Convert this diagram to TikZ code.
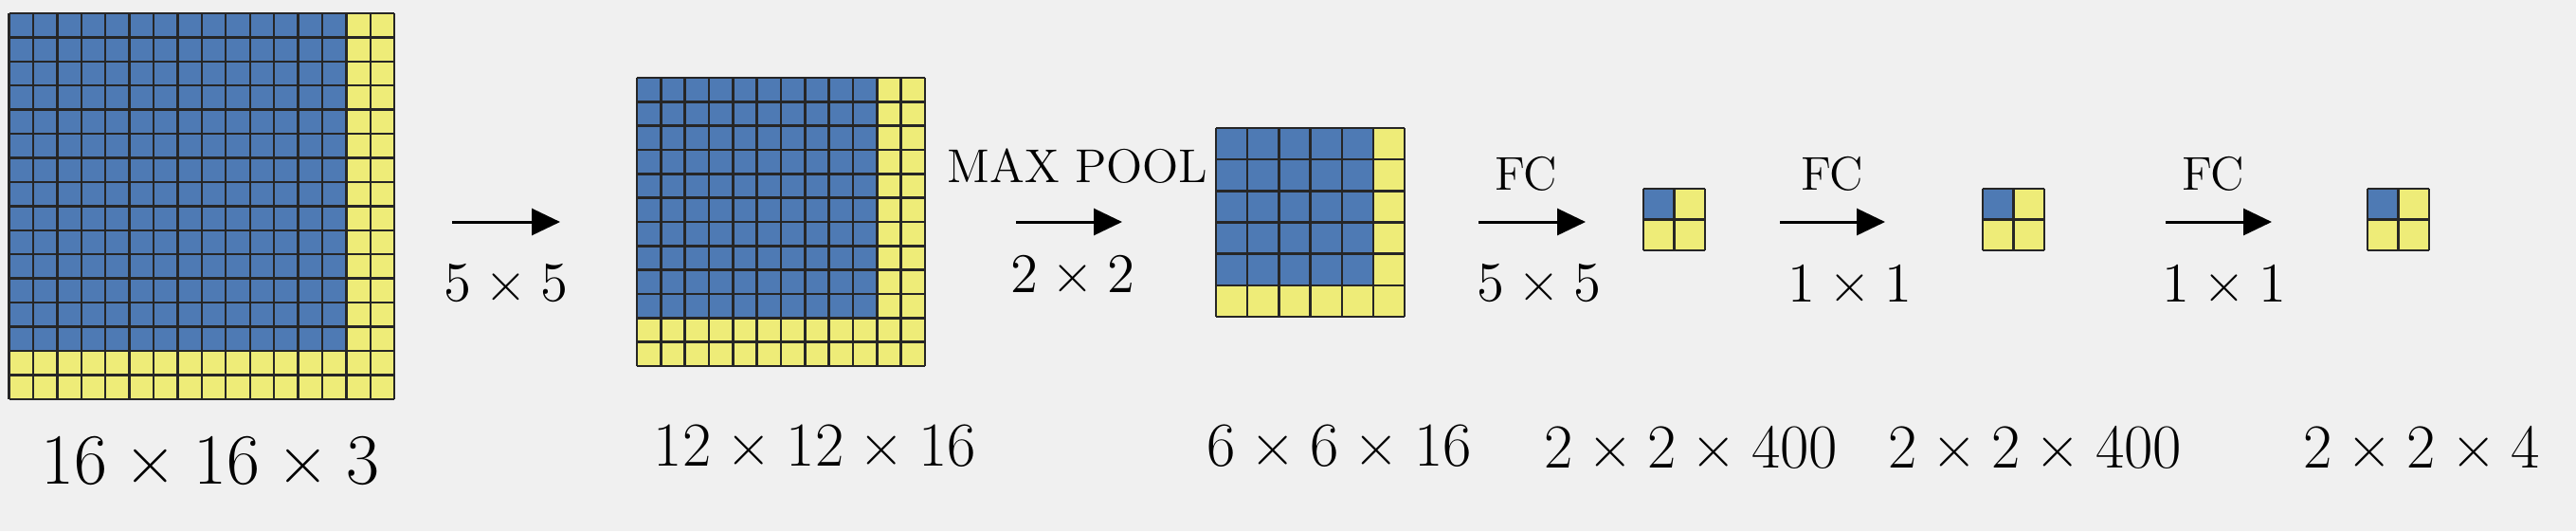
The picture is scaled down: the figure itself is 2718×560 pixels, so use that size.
\documentclass[tikz,border=0pt]{standalone}
\usepackage{fontspec}
\usepackage{color}
\usetikzlibrary{arrows.meta, positioning}
\definecolor{mapblue}{RGB}{78,122,180}
\definecolor{mapyellow}{RGB}{238,236,120}
\definecolor{bggray}{RGB}{240,240,240}
\newcommand{\by}{\hspace{.24em}×\hspace{.24em}}
\tikzset{
	blueCell/.style={fill=mapblue},
	yellowCell/.style={fill=mapyellow},
	gridLine/.style={line width=.6pt, black!85},
	flow/.style={line width=.75pt, -{Triangle[length=7.5pt,width=7pt]}},
	opLabel/.style={inner sep=0pt, anchor=base, font=\fontsize{12.5}{14}\selectfont},
	kernelLabel/.style={inner sep=0pt, anchor=base, font=\fontsize{14.75}{17}\selectfont},
	dimLabel/.style={inner sep=0pt, anchor=base, font=\fontsize{16.5}{19}\selectfont}
}

\begin{document}
\begin{tikzpicture}[x=.25pt, y=-.25pt]
\fill[bggray] (0,0) rectangle (2718,560);
\useasboundingbox (0,0) rectangle (2718,560);
% feature maps: name/left/top/cells/yellow cells/cell size
\foreach \gname/\x/\y/\n/\m/\cell in {g1/9.5/14/16/2/25.42, g2/672/82/12/2/25.33, g3/1283/135/6/1/33.17,
                                       s1/1734/199/2/1/32.5, s2/2092/199/2/1/32.5, s3/2498/199/2/1/32.5}{
  \pgfmathsetmacro{\side}{\n*\cell}
  \pgfmathsetmacro{\core}{(\n-\m)*\cell}
  \fill[blueCell] (\x,\y) rectangle ++(\core,\core);
  \fill[yellowCell] (\x+\core,\y) rectangle ++(\side-\core,\side);
  \fill[yellowCell] (\x,\y+\core) rectangle ++(\core,\side-\core);
  \foreach \i in {0,...,\n}{
    \draw[gridLine] (\x+\i*\cell,\y) -- ++(0,\side);
    \draw[gridLine] (\x,\y+\i*\cell) -- ++(\side,0);
  }
  \coordinate (\gname) at (\x+\side/2,\y+\side/2);
}
\coordinate (a1s) at (477,234);
\coordinate (a1e) at (591,234);
\coordinate (a2s) at (1072,234);
\coordinate (a2e) at (1184,234);
\coordinate (a3s) at (1560,234);
\coordinate (a3e) at (1673,234);
\coordinate (a4s) at (1878,234);
\coordinate (a4e) at (1989,234);
\coordinate (a5s) at (2285,234);
\coordinate (a5e) at (2397,234);
\draw[flow] (a1s) -- (a1e);
\draw[flow] (a2s) -- (a2e);
\draw[flow] (a3s) -- (a3e);
\draw[flow] (a4s) -- (a4e);
\draw[flow] (a5s) -- (a5e);
\node[opLabel] (pool) at (1137,192) {MAX POOL};
\node[opLabel] (fc1) at (1610,200) {FC};
\node[opLabel] (fc2) at (1933,200) {FC};
\node[opLabel] (fc3) at (2335,200) {FC};
\node[kernelLabel] (k1) at (534,317) {5\by5};
\node[kernelLabel] (k2) at (1132,308) {2\by2};
\node[kernelLabel] (k3) at (1624,317) {5\by5};
\node[kernelLabel] (k4) at (1952,318) {1\by1};
\node[kernelLabel] (k5) at (2347,318) {1\by1};
\node[dimLabel, font=\fontsize{19}{22}\selectfont] (d1) at (222,510) {16\by16\by3};
\node[dimLabel] (d2) at (860,491) {12\by12\by16};
\node[dimLabel] (d3) at (1413,491) {6\by6\by16};
\node[dimLabel] (d4) at (1784,493) {2\by2\by400};
\node[dimLabel] (d5) at (2147,493) {2\by2\by400};
\node[dimLabel] (d6) at (2555,493) {2\by2\by4};
\end{tikzpicture}
\end{document}
